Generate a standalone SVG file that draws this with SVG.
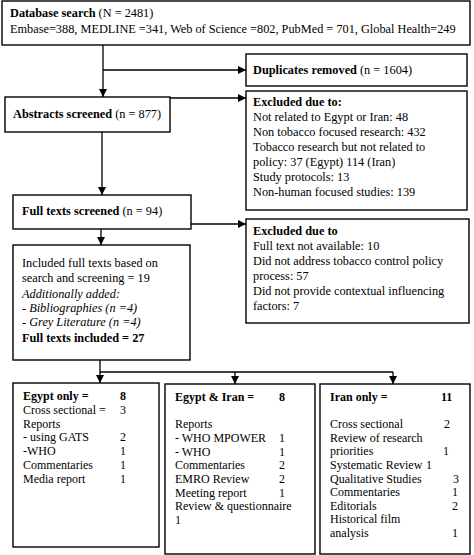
<svg xmlns="http://www.w3.org/2000/svg" width="474" height="555" viewBox="0 0 474 555">
<style>
text{font-family:"Liberation Serif","Times New Roman",serif;font-size:12.3px;fill:#000}
.s text{font-size:12px}
.b{font-weight:bold}
.i{font-style:italic}
rect{fill:#fff;stroke:#000;stroke-width:1.4}
.c line{stroke:#000;stroke-width:1.3}
</style>
<defs>
<marker id="ah" viewBox="0 0 8 8" refX="8" refY="4" markerWidth="8" markerHeight="8" markerUnits="userSpaceOnUse" orient="auto">
<path d="M0,0 L8,4 L0,8 z" fill="#000"/>
</marker>
</defs>
<g class="c" id="connectors">
<line x1="103" y1="45" x2="103" y2="97" marker-end="url(#ah)"/>
<line x1="103" y1="70" x2="246" y2="70" marker-end="url(#ah)"/>
<line x1="170" y1="98" x2="246" y2="98" marker-end="url(#ah)"/>
<line x1="102" y1="132" x2="102" y2="195" marker-end="url(#ah)"/>
<line x1="191" y1="224" x2="246" y2="224" marker-end="url(#ah)"/>
<line x1="101" y1="229" x2="101" y2="245" marker-end="url(#ah)"/>
<line x1="100" y1="360" x2="100" y2="383" marker-end="url(#ah)"/>
<line x1="100" y1="372" x2="393" y2="372"/>
<line x1="235" y1="372" x2="235" y2="384" marker-end="url(#ah)"/>
<line x1="393" y1="372" x2="393" y2="384" marker-end="url(#ah)"/>
</g>
<g id="database">
<rect x="2" y="1" width="468" height="44"/>
<text x="10" y="17"><tspan class="b">Database search</tspan> (N = 2481)</text>
<text x="10" y="33">Embase=388, MEDLINE =341, Web of Science =802, PubMed = 701, Global Health=249</text>
</g>
<g id="duplicates">
<rect x="246" y="54" width="221" height="32"/>
<text x="253" y="74"><tspan class="b">Duplicates removed</tspan> (n = 1604)</text>
</g>
<g id="abstracts">
<rect x="5" y="97" width="165" height="35"/>
<text x="13" y="118"><tspan class="b">Abstracts screened</tspan> (n = 877)</text>
</g>
<g id="excluded1">
<rect x="246" y="91" width="221" height="119"/>
<text x="253" y="106" class="b">Excluded due to:</text>
<text x="253" y="121">Not related to Egypt or Iran: 48</text>
<text x="253" y="136">Non tobacco focused research: 432</text>
<text x="253" y="151">Tobacco research but not related to</text>
<text x="253" y="166">policy: 37 (Egypt) 114 (Iran)</text>
<text x="253" y="181">Study protocols: 13</text>
<text x="253" y="196">Non-human focused studies: 139</text>
</g>
<g id="fulltexts">
<rect x="13" y="195" width="178" height="34"/>
<text x="22" y="215"><tspan class="b">Full texts screened</tspan> (n = 94)</text>
</g>
<g id="excluded2">
<rect x="246" y="219" width="223" height="104"/>
<text x="253" y="235" class="b">Excluded due to</text>
<text x="253" y="250">Full text not available: 10</text>
<text x="253" y="265">Did not address tobacco control policy</text>
<text x="253" y="280">process: 57</text>
<text x="253" y="295">Did not provide contextual influencing</text>
<text x="253" y="310">factors: 7</text>
</g>
<g id="included">
<rect x="13" y="245" width="177" height="115"/>
<text x="22" y="267">Included full texts based on</text>
<text x="22" y="281.5">search and screening = 19</text>
<text x="22" y="298" class="i">Additionally added:</text>
<text x="22" y="312" class="i">- Bibliographies (n =4)</text>
<text x="22" y="326" class="i">- Grey Literature (n =4)</text>
<text x="22" y="342" class="b">Full texts included = 27</text>
</g>
<g id="egypt" class="s">
<rect x="13" y="383" width="146" height="164"/>
<text x="23" y="400" class="b">Egypt only =</text><text x="120" y="400" class="b">8</text>
<text x="23" y="413.8">Cross sectional =</text><text x="120" y="413.8">3</text>
<text x="23" y="427.6">Reports</text>
<text x="23" y="441.4">- using GATS</text><text x="120" y="441.4">2</text>
<text x="23" y="455.2">-WHO</text><text x="120" y="455.2">1</text>
<text x="23" y="469">Commentaries</text><text x="120" y="469">1</text>
<text x="23" y="482.8">Media report</text><text x="120" y="482.8">1</text>
</g>
<g id="egyptiran" class="s">
<rect x="165" y="384" width="150" height="170"/>
<text x="175" y="401" class="b">Egypt &amp; Iran =</text><text x="279" y="401" class="b">8</text>
<text x="175" y="428.3">Reports</text>
<text x="175" y="442">- WHO MPOWER</text><text x="279" y="442">1</text>
<text x="175" y="455.7">- WHO</text><text x="279" y="455.7">1</text>
<text x="175" y="469.3">Commentaries</text><text x="279" y="469.3">2</text>
<text x="175" y="483">EMRO Review</text><text x="279" y="483">2</text>
<text x="175" y="496.7">Meeting report</text><text x="279" y="496.7">1</text>
<text x="175" y="510.3">Review &amp; questionnaire</text>
<text x="175" y="524">1</text>
</g>
<g id="iran" class="s">
<rect x="320" y="384" width="150" height="170"/>
<text x="330" y="401" class="b">Iran only =</text><text x="441" y="401" class="b">11</text>
<text x="330" y="428.2">Cross sectional</text><text x="444" y="428.2">2</text>
<text x="330" y="441.8">Review of research</text>
<text x="330" y="455.4">priorities</text><text x="443" y="455.4">1</text>
<text x="330" y="469">Systematic Review</text><text x="426" y="469">1</text>
<text x="330" y="482.6">Qualitative Studies</text><text x="453" y="482.6">3</text>
<text x="330" y="496.2">Commentaries</text><text x="452" y="496.2">1</text>
<text x="330" y="509.8">Editorials</text><text x="452" y="509.8">2</text>
<text x="330" y="523.4">Historical film</text>
<text x="330" y="537">analysis</text><text x="452" y="537">1</text>
</g>
</svg>
